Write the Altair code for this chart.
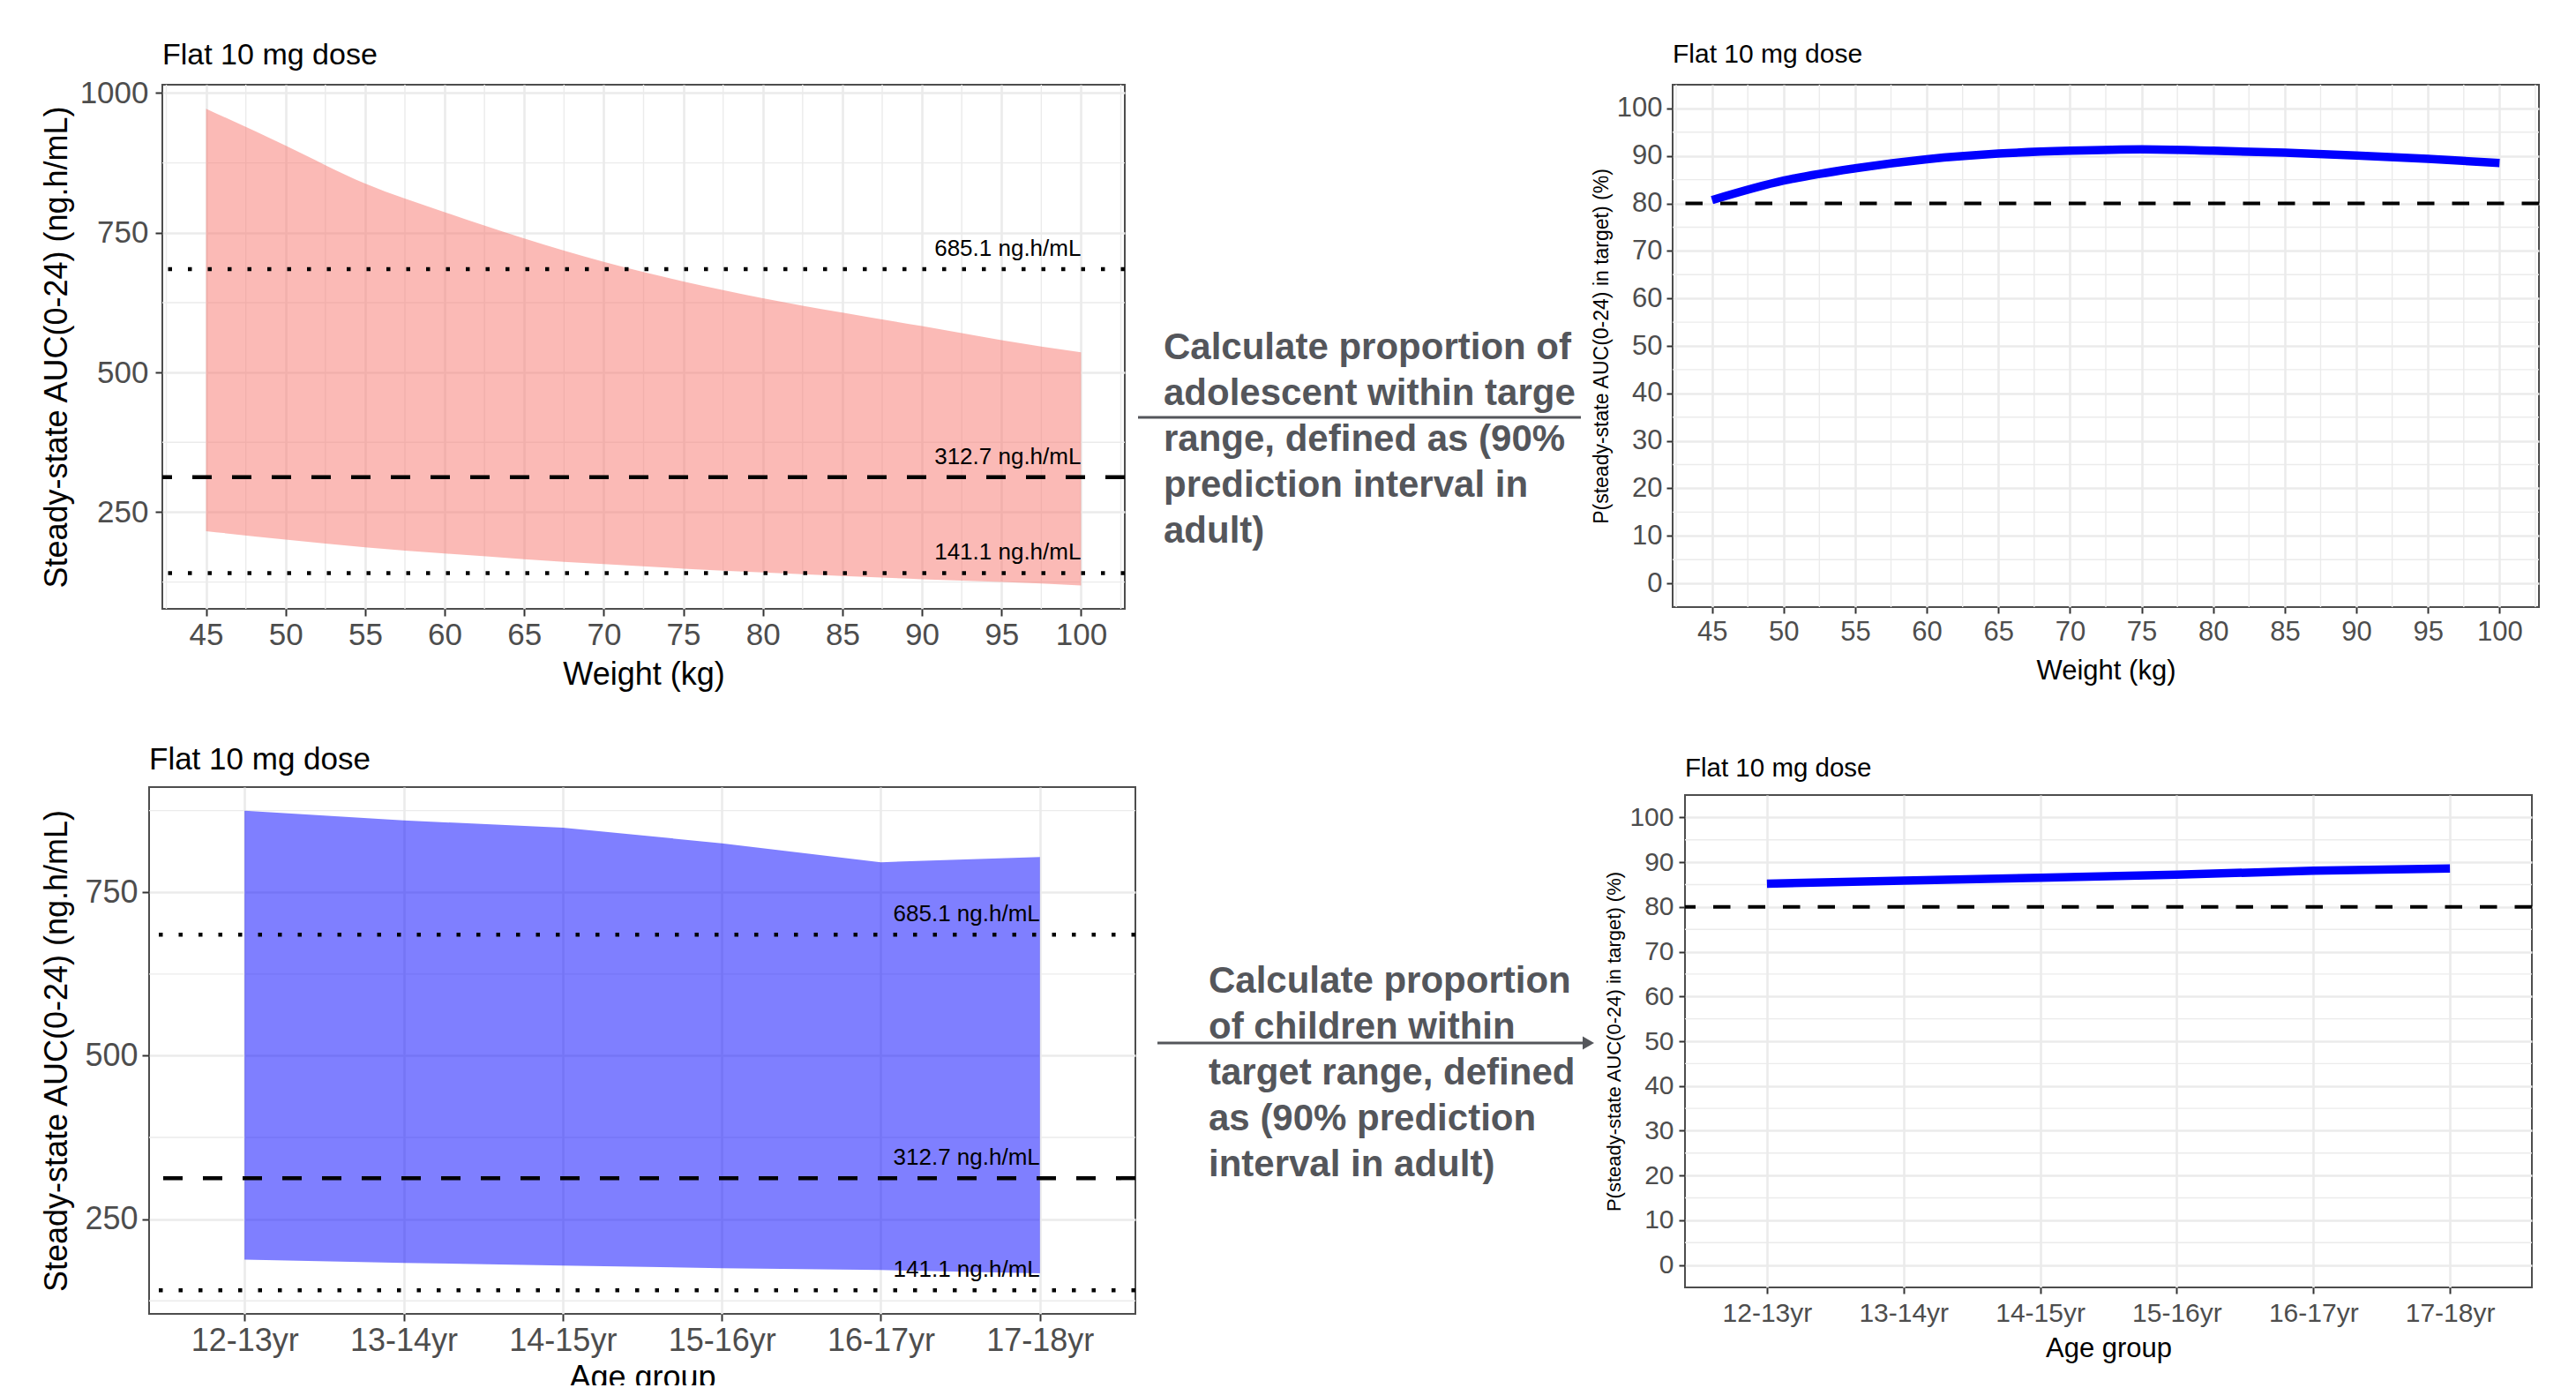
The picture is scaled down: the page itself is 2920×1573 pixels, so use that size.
import altair as alt
import pandas as pd

FONT = "Liberation Sans"
GRID = "#EBEBEB"
TICK = "#333333"
LABEL = "#4D4D4D"
BORDER = "#4D4D4D"
ANNOT = "#54565B"

# ---------------- data ----------------
weights = [45, 50, 55, 60, 65, 70, 75, 80, 85, 90, 95, 100]
auc_upper_wt = [972, 906, 838, 787, 740, 698, 663, 633, 607, 583, 558, 536]
auc_lower_wt = [216, 201, 187, 176, 166, 157, 149, 142, 136, 130, 125, 119]
prob_in_target_wt = [80.7, 84.8, 87.4, 89.3, 90.5, 91.1, 91.4, 91.1, 90.7, 90.1, 89.4, 88.5]

age_groups = ["12-13yr", "13-14yr", "14-15yr", "15-16yr", "16-17yr", "17-18yr"]
auc_upper_age = [875, 860, 849, 825, 796, 804]
auc_lower_age = [188, 183, 179, 175, 172, 167]
prob_in_target_age = [85.2, 85.9, 86.5, 87.2, 88.1, 88.6]

adult_pi_bounds = [685.1, 141.1]   # adult 90% prediction interval
adult_median = [312.7]
target_proportion = [80]

weight_ticks = [45, 50, 55, 60, 65, 70, 75, 80, 85, 90, 95, 100]
weight_minor = [42.5, 47.5, 52.5, 57.5, 62.5, 67.5, 72.5, 77.5, 82.5, 87.5, 92.5, 97.5, 102.5]
auc_ticks_wt = [250, 500, 750, 1000]
auc_minor_wt = [125, 375, 625, 875]
auc_ticks_age = [250, 500, 750]
auc_minor_age = [125, 375, 625, 875]
prob_ticks = [0, 10, 20, 30, 40, 50, 60, 70, 80, 90, 100]
prob_minor = [5, 15, 25, 35, 45, 55, 65, 75, 85, 95]

panel_title = "Flat 10 mg dose"
auc_title = "Steady-state AUC(0-24) (ng.h/mL)"
prob_title = "P(steady-state AUC(0-24) in target) (%)"

annotation_top = ["Calculate proportion of", "adolescent within targe",
                  "range, defined as (90%", "prediction interval in", "adult)"]
annotation_bottom = ["Calculate proportion", "of children within",
                     "target range, defined", "as (90% prediction", "interval in adult)"]

ref_all = adult_pi_bounds + adult_median

df_wt = pd.DataFrame({"weight": weights, "upper": auc_upper_wt, "lower": auc_lower_wt,
                      "prob": prob_in_target_wt})
df_age = pd.DataFrame({"age": age_groups, "upper": auc_upper_age, "lower": auc_lower_age,
                       "prob": prob_in_target_age})
one = pd.DataFrame({"n": [0]})


# ---------------- helpers ----------------
def make_axis(values, title, orient, label_size, title_size, tick_size, label_pad, title_pos, mid,
              quantitative=True):
    kw = dict(values=values, title=title, grid=True, gridColor=GRID, gridWidth=2.6,
              domain=False, ticks=True, tickColor=TICK, tickWidth=2, tickSize=tick_size,
              labelFont=FONT, labelFontSize=label_size, labelColor=LABEL, labelPadding=label_pad,
              labelFlush=False, labelOverlap=False, labelAngle=0,
              titleFont=FONT, titleFontSize=title_size, titleFontWeight="normal",
              titleColor="black", titleBaseline="middle", titleAlign="center")
    if quantitative:
        kw["format"] = "d"
    if orient == "x":
        kw.update(titleX=mid, titleY=title_pos, titleAngle=0)
    else:
        kw.update(titleX=title_pos, titleY=mid, titleAngle=270)
    return alt.Axis(**kw)


def make_title(size, offset):
    return alt.TitleParams(panel_title, anchor="start", frame="group", font=FONT, fontSize=size,
                           fontWeight="normal", color="black", baseline="alphabetic", offset=offset)


view_box = alt.ViewBackground(stroke=BORDER, strokeWidth=2)
view_blank = alt.ViewBackground(stroke="transparent", strokeWidth=0, strokeOpacity=0)


def spacer(w, h):
    return alt.Chart(one).mark_point(opacity=0).encode(
        x=alt.value(0), y=alt.value(0)).properties(width=w, height=h, view=view_blank)


def auc_panel(df, xfield, xtype, xscale, xaxis, yscale, yaxis, xminor, yminor, fill, interp, label_at,
              w, h, title_size, title_offset):
    X = lambda f: alt.X(f"{f}:{xtype}", scale=xscale, axis=xaxis)
    Y = lambda f: alt.Y(f"{f}:Q", scale=yscale, axis=yaxis)
    layers = []
    if xminor:
        layers.append(alt.Chart(pd.DataFrame({xfield: xminor})).mark_rule(
            color=GRID, strokeWidth=1.4).encode(x=X(xfield)))
    layers.append(alt.Chart(pd.DataFrame({"upper": yminor})).mark_rule(
        color=GRID, strokeWidth=1.4).encode(y=Y("upper")))
    layers.append(alt.Chart(df).mark_area(color=fill, opacity=0.5, interpolate=interp).encode(
        x=X(xfield), y=Y("upper"), y2="lower:Q"))
    layers.append(alt.Chart(pd.DataFrame({"upper": adult_pi_bounds})).mark_rule(
        color="black", strokeWidth=4.5, strokeDash=[4.5, 18]).encode(y=Y("upper")))
    layers.append(alt.Chart(pd.DataFrame({"upper": adult_median})).mark_rule(
        color="black", strokeWidth=4.5, strokeDash=[22, 23]).encode(y=Y("upper")))
    df_lab = pd.DataFrame({"upper": ref_all, "label": [f"{v} ng.h/mL" for v in ref_all],
                           xfield: [label_at] * len(ref_all)})
    layers.append(alt.Chart(df_lab).mark_text(align="right", baseline="alphabetic", dy=-15, font=FONT,
                                              fontSize=26, color="black").encode(
        x=X(xfield), y=Y("upper"), text="label:N"))
    return alt.layer(*layers).properties(width=w, height=h, title=make_title(title_size, title_offset),
                                         view=view_box)


def prob_panel(df, xfield, xtype, xscale, xaxis, yscale, yaxis, xminor, yminor, interp,
               w, h, title_size, title_offset):
    X = lambda f: alt.X(f"{f}:{xtype}", scale=xscale, axis=xaxis)
    Y = lambda f: alt.Y(f"{f}:Q", scale=yscale, axis=yaxis)
    layers = []
    if xminor:
        layers.append(alt.Chart(pd.DataFrame({xfield: xminor})).mark_rule(
            color=GRID, strokeWidth=1.4).encode(x=X(xfield)))
    layers.append(alt.Chart(pd.DataFrame({"prob": yminor})).mark_rule(
        color=GRID, strokeWidth=1.4).encode(y=Y("prob")))
    layers.append(alt.Chart(df).mark_line(color="#0000FF", strokeWidth=9.5, interpolate=interp).encode(
        x=X(xfield), y=Y("prob")))
    layers.append(alt.Chart(pd.DataFrame({"prob": target_proportion})).mark_rule(
        color="black", strokeWidth=4, strokeDash=[19.5, 20]).encode(y=Y("prob")))
    return alt.layer(*layers).properties(width=w, height=h, title=make_title(title_size, title_offset),
                                         view=view_box)


# ---------------- scales ----------------
xs_wt = alt.Scale(domain=[42.25, 102.75], nice=False, zero=False)
ys_wt = alt.Scale(domain=[77, 1015], nice=False, zero=False)
ys_prob = alt.Scale(domain=[-5, 105], nice=False, zero=False)
xs_age = alt.Scale(type="point", domain=age_groups, padding=0.6)
ys_age = alt.Scale(domain=[105, 911], nice=False, zero=False)

# ---------------- panels ----------------
W1, H1 = 1091, 594
tl = auc_panel(df_wt, "weight", "Q", xs_wt,
               make_axis(weight_ticks, "Weight (kg)", "x", 35, 36, 8, 4.5, 74, W1 / 2),
               ys_wt, make_axis(auc_ticks_wt, auc_title, "y", 35, 36, 8, 8, -120, H1 / 2),
               weight_minor, auc_minor_wt, "#F8766D", "monotone", weights[-1], W1, H1, 34, -19)

W2, H2 = 982, 592
tr = prob_panel(df_wt, "weight", "Q", xs_wt,
                make_axis(weight_ticks, "Weight (kg)", "x", 31, 31, 7, 6, 72.5, W2 / 2),
                ys_prob, make_axis(prob_ticks, prob_title, "y", 31, 23, 7, 5, -81, H2 / 2),
                weight_minor, prob_minor, "monotone", W2, H2, 30, -5.4)

W3, H3 = 1118, 597
bl = auc_panel(df_age, "age", "N", xs_age,
               make_axis(age_groups, "Age group", "x", 36, 36, 8, 5, 72, W3 / 2, quantitative=False),
               ys_age, make_axis(auc_ticks_age, auc_title, "y", 36, 36, 8, 5, -105, H3 / 2),
               None, auc_minor_age, "#0000FF", "linear", age_groups[-1], W3, H3, 35, -14.5)

W4, H4 = 960, 558
br = prob_panel(df_age, "age", "N", xs_age,
                make_axis(age_groups, "Age group", "x", 30, 31, 7, 7, 69, W4 / 2, quantitative=False),
                ys_prob, make_axis(prob_ticks, prob_title, "y", 30, 22, 7, 6, -81, H4 / 2),
                None, prob_minor, "linear", W4, H4, 29.5, -8)


# ---------------- middle annotations ----------------
def annotation(lines, tx, ty):
    return alt.Chart(one).mark_text(align="left", baseline="alphabetic", font=FONT, fontSize=42,
                                    fontWeight="bold", color=ANNOT, lineHeight=52).encode(
        x=alt.value(tx), y=alt.value(ty), text=alt.value(lines))


mid1 = alt.layer(
    alt.Chart(one).mark_rule(color=ANNOT, strokeWidth=3).encode(
        x=alt.value(15), x2=alt.value(517), y=alt.value(377)),
    annotation(annotation_top, 44, 311)).properties(width=621, height=594, view=view_blank)

mid2 = alt.layer(
    alt.Chart(one).mark_rule(color=ANNOT, strokeWidth=3).encode(
        x=alt.value(25), x2=alt.value(510), y=alt.value(290)),
    alt.Chart(one).mark_point(shape="triangle-right", filled=True, size=225, color=ANNOT, opacity=1).encode(
        x=alt.value(513.5), y=alt.value(290)),
    annotation(annotation_bottom, 83, 233)).properties(width=623, height=597, view=view_blank)

# ---------------- layout ----------------
row1 = alt.hconcat(spacer(15, 594), tl, mid1, tr, spacing=0, bounds="flush")
right2 = alt.vconcat(spacer(960, 9), br, spacing=0, bounds="flush")
row2 = alt.hconcat(bl, mid2, right2, spacing=0, bounds="flush")

chart = alt.vconcat(row1, row2, spacing=59).properties(
    padding={"left": 36, "top": 37, "right": 5, "bottom": -10}
).configure_view(strokeWidth=0, stroke="transparent").configure(background="white")

chart.save("out.html", embed_options={"renderer": "svg", "actions": False})
